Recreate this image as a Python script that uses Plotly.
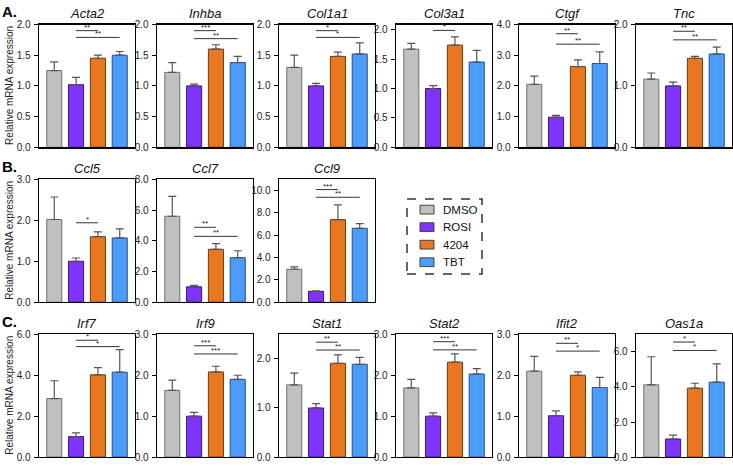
import plotly.graph_objects as go

W, H = 733, 466
groups = ["DMSO", "ROSI", "4204", "TBT"]
colors = ["#C0C0C0", "#7F33FC", "#E8771F", "#4C9CFA"]
edge = ["#707070", "#3A1680", "#6E3A10", "#244F8C"]

# ---- data (mean, upward error) ----
acta2 = [1.25, 1.02, 1.45, 1.50];  acta2_err = [0.14, 0.12, 0.05, 0.06]
inhba = [1.22, 1.00, 1.60, 1.38];  inhba_err = [0.16, 0.03, 0.07, 0.10]
col1a1 = [1.30, 1.00, 1.48, 1.52]; col1a1_err = [0.20, 0.04, 0.07, 0.18]
col3a1 = [1.67, 1.00, 1.74, 1.45]; col3a1_err = [0.10, 0.05, 0.14, 0.20]
ctgf = [2.05, 0.98, 2.63, 2.73];   ctgf_err = [0.27, 0.06, 0.22, 0.38]
tnc = [1.11, 1.00, 1.45, 1.52];    tnc_err = [0.10, 0.06, 0.03, 0.11]
ccl5 = [2.02, 1.00, 1.60, 1.57];   ccl5_err = [0.55, 0.08, 0.12, 0.22]
ccl7 = [5.60, 1.00, 3.45, 2.90];   ccl7_err = [1.30, 0.10, 0.37, 0.45]
ccl9 = [2.95, 0.97, 7.40, 6.62];   ccl9_err = [0.22, 0.05, 1.32, 0.42]
irf7 = [2.86, 1.00, 4.02, 4.15];   irf7_err = [0.87, 0.18, 0.35, 1.10]
irf9 = [1.63, 1.00, 2.08, 1.90];   irf9_err = [0.25, 0.09, 0.14, 0.10]
stat1 = [1.47, 1.00, 1.91, 1.89];  stat1_err = [0.24, 0.09, 0.17, 0.14]
stat2 = [1.69, 1.00, 2.32, 2.03];  stat2_err = [0.21, 0.08, 0.20, 0.13]
ifit2 = [2.10, 1.01, 2.00, 1.70];  ifit2_err = [0.36, 0.12, 0.08, 0.25]
oas1a = [4.12, 1.03, 3.93, 4.27];  oas1a_err = [1.60, 0.22, 0.28, 1.05]

# significance brackets: (from group, to group, y, label)
acta2_sig = [(1, 2, 1.90, "**"), (1, 3, 1.79, "**")]
inhba_sig = [(1, 2, 1.90, "***"), (1, 3, 1.77, "**")]
col1a1_sig = [(1, 2, 1.90, "*"), (1, 3, 1.79, "*")]
col3a1_sig = [(1, 2, 1.99, "*")]
ctgf_sig = [(1, 2, 3.70, "**"), (1, 3, 3.36, "**")]
tnc_sig = [(1, 2, 1.89, "**"), (1, 3, 1.75, "**")]
ccl5_sig = [(1, 2, 1.94, "*")]
ccl7_sig = [(1, 2, 4.88, "**"), (1, 3, 4.29, "**")]
ccl9_sig = [(1, 2, 10.09, "***"), (1, 3, 9.40, "**")]
irf7_sig = [(1, 2, 5.71, "*"), (1, 3, 5.40, "*")]
irf9_sig = [(1, 2, 2.72, "***"), (1, 3, 2.52, "***")]
stat1_sig = [(1, 2, 2.34, "**"), (1, 3, 2.18, "**")]
stat2_sig = [(1, 2, 2.82, "***"), (1, 3, 2.62, "**")]
ifit2_sig = [(1, 2, 2.78, "**"), (1, 3, 2.59, "*")]
oas1a_sig = [(1, 2, 6.56, "*"), (1, 3, 6.08, "*")]

# panels: (title, mean, err, sig, ymax, dtick, row, col)
panels = [
    ("Acta2", acta2, acta2_err, acta2_sig, 2.0, 0.5, 0, 0),
    ("Inhba", inhba, inhba_err, inhba_sig, 2.0, 0.5, 0, 1),
    ("Col1a1", col1a1, col1a1_err, col1a1_sig, 2.0, 0.5, 0, 2),
    ("Col3a1", col3a1, col3a1_err, col3a1_sig, 2.09, 0.5, 0, 3),
    ("Ctgf", ctgf, ctgf_err, ctgf_sig, 4.0, 1.0, 0, 4),
    ("Tnc", tnc, tnc_err, tnc_sig, 2.0, 1.0, 0, 5),
    ("Ccl5", ccl5, ccl5_err, ccl5_sig, 3.0, 1.0, 1, 0),
    ("Ccl7", ccl7, ccl7_err, ccl7_sig, 8.0, 2.0, 1, 1),
    ("Ccl9", ccl9, ccl9_err, ccl9_sig, 11.0, 2.0, 1, 2),
    ("Irf7", irf7, irf7_err, irf7_sig, 6.0, 2.0, 2, 0),
    ("Irf9", irf9, irf9_err, irf9_sig, 3.0, 1.0, 2, 1),
    ("Stat1", stat1, stat1_err, stat1_sig, 2.5, 1.0, 2, 2),
    ("Stat2", stat2, stat2_err, stat2_sig, 3.0, 1.0, 2, 3),
    ("Ifit2", ifit2, ifit2_err, ifit2_sig, 3.0, 1.0, 2, 4),
    ("Oas1a", oas1a, oas1a_err, oas1a_sig, 7.0, 2.0, 2, 5),
]

col_left = [39, 157, 279, 396, 519, 636]
panel_w = 96
row_top = [19, 178, 337]
panel_h = 126
row_labels = ["A.", "B.", "C."]

FONT = "Liberation Sans, Arial, sans-serif"
fig = go.Figure()
layout = {}
shapes = []
annotations = []

for k, (title, mean, err, sig, ymax, dtick, r, c) in enumerate(panels):
    n = k + 1
    xa = "x" if n == 1 else f"x{n}"
    ya = "y" if n == 1 else f"y{n}"
    x0 = col_left[c] / W
    x1 = (col_left[c] + panel_w) / W
    y1 = 1 - row_top[r] / H
    y0 = 1 - (row_top[r] + panel_h) / H
    for g in range(4):
        fig.add_trace(go.Bar(
            x=[g], y=[mean[g]], name=groups[g], width=0.69,
            marker=dict(color=colors[g], line=dict(color=edge[g], width=1)),
            error_y=dict(type="data", symmetric=False, array=[err[g]],
                         arrayminus=[0], color="#555555", thickness=1.2, width=4),
            xaxis=xa, yaxis=ya, showlegend=False,
        ))
    layout["xaxis" if n == 1 else f"xaxis{n}"] = dict(
        domain=[x0, x1], anchor=ya, range=[-0.7, 3.7], showticklabels=False,
        ticks="", showline=True, linecolor="#000", linewidth=1.3, mirror=True,
        showgrid=False, zeroline=False, fixedrange=True)
    layout["yaxis" if n == 1 else f"yaxis{n}"] = dict(
        domain=[y0, y1], anchor=xa, range=[0, ymax], dtick=dtick, tick0=0,
        tickformat=".1f", ticks="outside", ticklen=4, tickwidth=1,
        tickcolor="#000", showline=True, linecolor="#000", linewidth=1.3,
        mirror=True, showgrid=False, zeroline=False, ticklabelstandoff=1,
        fixedrange=True, tickfont=dict(size=10, color="#222", family=FONT))
    for (a, b, yy, lab) in sig:
        shapes.append(dict(type="line", xref=xa, yref=ya, x0=a, x1=b, y0=yy, y1=yy,
                           line=dict(color="#333", width=1)))
        annotations.append(dict(x=(a + b) / 2, y=yy, xref=xa, yref=ya, text=lab,
                                showarrow=False, xanchor="center", yanchor="bottom",
                                yshift=-3, font=dict(size=8, color="#222", family=FONT)))
    annotations.append(dict(x=(x0 + x1) / 2, y=1 - (row_top[r] - 11) / H, xref="paper",
                            yref="paper", text=f"<i>{title}</i>", showarrow=False,
                            xanchor="center", yanchor="middle",
                            font=dict(size=13, color="#111", family=FONT)))
    if c == 0:
        annotations.append(dict(x=10 / W, y=(y0 + y1) / 2, xref="paper", yref="paper",
                                text="Relative mRNA expression", textangle=-90,
                                xanchor="center", yanchor="middle", showarrow=False,
                                font=dict(size=10, color="#222", family=FONT)))
        annotations.append(dict(x=0, y=1 - (row_top[r] - 13) / H, xref="paper", yref="paper",
                                text=f"<b>{row_labels[r]}</b>", showarrow=False,
                                xanchor="left", yanchor="middle",
                                font=dict(size=15, color="#000", family=FONT)))

# hand-drawn legend with dashed frame
shapes.append(dict(type="rect", xref="paper", yref="paper",
                   x0=407 / W, x1=482 / W, y0=1 - 275 / H, y1=1 - 198 / H,
                   line=dict(color="#333", width=1.5, dash="dash")))
leg_y = [209, 227, 245, 263]
for g in range(4):
    shapes.append(dict(type="rect", xref="paper", yref="paper",
                       x0=420 / W, x1=434 / W, y0=1 - (leg_y[g] + 4.5) / H,
                       y1=1 - (leg_y[g] - 4.5) / H, fillcolor=colors[g],
                       line=dict(color="#444", width=1)))
    annotations.append(dict(x=441 / W, y=1 - leg_y[g] / H, xref="paper", yref="paper",
                            text=groups[g], showarrow=False, xanchor="left",
                            yanchor="middle", font=dict(size=11.5, color="#111", family=FONT)))

fig.update_layout(**layout)
fig.update_layout(
    width=W, height=H, margin=dict(l=0, r=0, t=0, b=0),
    paper_bgcolor="white", plot_bgcolor="white", barmode="overlay",
    shapes=shapes, annotations=annotations, showlegend=False,
    font=dict(family=FONT),
)
fig.write_html("out.html", config={"displayModeBar": False, "staticPlot": True},
               post_script="document.body.style.margin='0';document.body.style.overflow='hidden';")
